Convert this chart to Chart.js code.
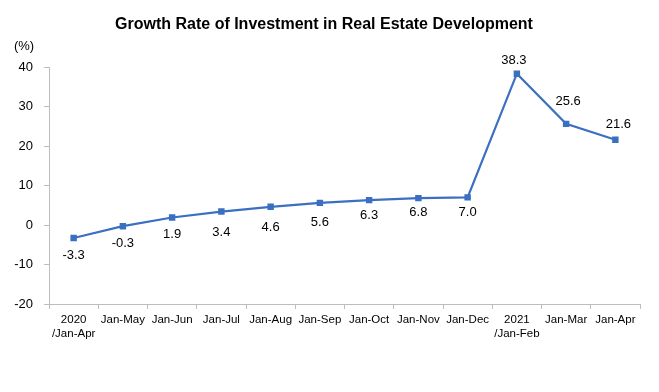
<!DOCTYPE html>
<html>
<head>
<meta charset="utf-8">
<script src="https://cdn.jsdelivr.net/npm/chart.js@4/dist/chart.umd.min.js"></script>
<style>
    html, body { margin: 0; padding: 0; background: #fff; }
    #wrap { width: 659px; height: 392px; position: relative; }
</style>
</head>
<body>
<div id="wrap"><canvas id="chart"></canvas></div>
<script>
// ==================== DATA ====================
const categories = [
    ['2020', '/Jan-Apr'], 'Jan-May', 'Jan-Jun', 'Jan-Jul', 'Jan-Aug', 'Jan-Sep',
    'Jan-Oct', 'Jan-Nov', 'Jan-Dec', ['2021', '/Jan-Feb'], 'Jan-Mar', 'Jan-Apr'
];
const growthRate = [-3.3, -0.3, 1.9, 3.4, 4.6, 5.6, 6.3, 6.8, 7.0, 38.3, 25.6, 21.6];
const yTicks = [-20, -10, 0, 10, 20, 30, 40];

const chartTitle = 'Growth Rate of Investment in Real Estate Development';
const unitLabel = '(%)';

// label offsets from each point, in pixels (styling only)
const labelDy = [17, 17, 17, 21, 21, 20, 15, 14, 15, -13, -22, -15];
const labelDx = [0, 0, 0, 0, 0, 0, 0, 0, 0, -3, 2, 3];

const FONT = "'Liberation Sans', Arial, sans-serif";

// ==================== TEXT PLUGIN ====================
const textPlugin = {
    id: 'textPlugin',
    afterDatasetsDraw(chart) {
        const ctx = chart.ctx;
        const meta = chart.getDatasetMeta(0);
        ctx.save();
        ctx.fillStyle = '#000';
        ctx.font = '13px ' + FONT;
        ctx.textAlign = 'center';
        ctx.textBaseline = 'middle';
        meta.data.forEach((pt, i) => {
            ctx.fillText(growthRate[i].toFixed(1), pt.x + labelDx[i], pt.y + labelDy[i]);
        });

        // title
        ctx.font = 'bold 16px ' + FONT;
        ctx.fillText(chartTitle, 324, 25);

        // unit
        ctx.font = '13px ' + FONT;
        ctx.fillText(unitLabel, 24, 46);
        ctx.restore();
    }
};

// ==================== CHART ====================
const ctx = document.getElementById('chart').getContext('2d');
const chart = new Chart(ctx, {
    type: 'line',
    data: {
        labels: categories,
        datasets: [{
            data: growthRate,
            borderColor: '#3b6fc1',
            backgroundColor: '#3b6fc1',
            borderWidth: 2.2,
            pointStyle: 'rect',
            pointRadius: 3,
            pointHoverRadius: 3,
            tension: 0
        }]
    },
    options: {
        responsive: true,
        maintainAspectRatio: false,
        animation: false,
        layout: { padding: { left: 0, right: 19, top: 67, bottom: 0 } },
        plugins: {
            legend: { display: false },
            title: { display: false },
            tooltip: { enabled: false }
        },
        scales: {
            x: {
                offset: true,
                afterFit: (scale) => { scale.height = 88; },
                border: { color: '#bdbdbd', width: 1 },
                grid: {
                    offset: true,
                    drawOnChartArea: false,
                    drawTicks: true,
                    tickLength: 5,
                    color: '#bdbdbd'
                },
                ticks: {
                    color: '#000',
                    font: { family: FONT, size: 11.5, lineHeight: 1.2 },
                    maxRotation: 0,
                    autoSkip: false,
                    padding: 4
                }
            },
            y: {
                min: -20,
                max: 40,
                afterFit: (scale) => { scale.width = 49; },
                afterBuildTicks: (scale) => { scale.ticks = yTicks.map(v => ({ value: v })); },
                border: { color: '#bdbdbd', width: 1 },
                grid: {
                    drawOnChartArea: false,
                    drawTicks: true,
                    tickLength: 5,
                    color: '#bdbdbd'
                },
                ticks: {
                    color: '#000',
                    font: { family: FONT, size: 13 },
                    padding: 11
                }
            }
        }
    },
    plugins: [textPlugin]
});
</script>
</body>
</html>
